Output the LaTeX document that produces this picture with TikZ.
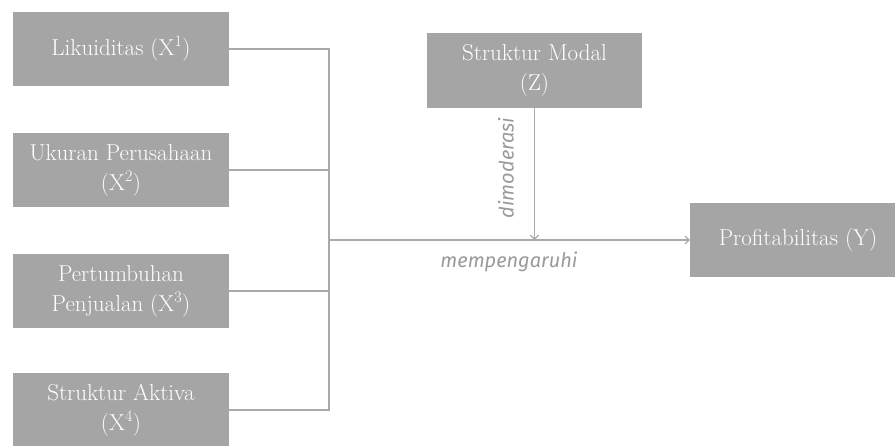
\documentclass[tikz,border=0pt]{standalone}
\usepackage{fontspec}
\newfontfamily\labelfont{Fira Sans}
\usetikzlibrary{arrows.meta}
\definecolor{boxgray}{HTML}{A5A5A5}
\definecolor{linegray}{HTML}{A9A9A9}
\definecolor{labelgray}{HTML}{9A9A9A}
\tikzset{
  varbox/.style={fill=boxgray, draw=none, text=white, minimum width=216pt,
    minimum height=74pt, align=center, inner sep=0pt,
    font=\fontsize{23}{30}\selectfont},
  link/.style={draw=linegray, line width=1.4pt},
  tip/.style={-{Straight Barb[length=4pt,width=8pt,line width=1.2pt]}},
  relabel/.style={text=labelgray, font=\labelfont\itshape\fontsize{20}{22}\selectfont, inner sep=0pt}
}
\begin{document}
\begin{tikzpicture}[x=1pt,y=-1pt]
  \useasboundingbox (0,0) rectangle (895,445);
  \clip (0,0) rectangle (895,445);

  % independent variables
  \node[varbox] (x1) at (121,49)  {Likuiditas (X\textsuperscript{1})};
  \node[varbox] (x2) at (121,170) {Ukuran Perusahaan\\(X\textsuperscript{2})};
  \node[varbox] (x3) at (121,291) {Pertumbuhan\\Penjualan (X\textsuperscript{3})};
  \node[varbox] (x4) at (121,410) {Struktur Aktiva\\(X\textsuperscript{4})};

  % moderator and dependent variable
  \node[varbox, minimum width=215pt, minimum height=75pt] (z) at (534.5,70.5) {Struktur Modal\\(Z)};
  \node[varbox, minimum width=216pt] (y) at (798,239.5) {Profitabilitas (Y)};

  % collecting bus
  \coordinate (top) at (329,49);
  \coordinate (bot) at (329,410);
  \coordinate (hub) at (329,240);
  \coordinate (meet) at (534.5,240);

  \draw[link] (x1.east) -- (top) -- (bot) -- (x4.east);
  \draw[link] (x2.east) -- (x2.east -| top);
  \draw[link] (x3.east) -- (x3.east -| top);
  \draw[link, tip] (hub) -- (hub -| y.west);
  \draw[link, tip] (z.south) -- (meet);

  % relation labels
  \node[relabel, rotate=90] (mod) at (506,168) {dimoderasi};
  \node[relabel] (inf) at (509,262) {mempengaruhi};
\end{tikzpicture}
\end{document}
